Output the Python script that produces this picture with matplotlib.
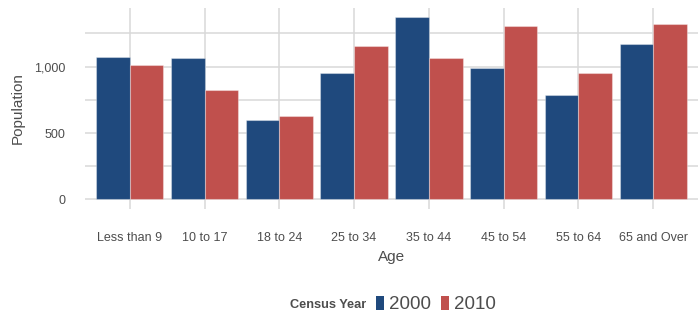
import numpy as np
import matplotlib
matplotlib.use("Agg")
from matplotlib import pyplot as plt
from matplotlib.patches import Patch
from matplotlib.ticker import FuncFormatter, MultipleLocator

age_groups = ["Less than 9", "10 to 17", "18 to 24", "25 to 34",
              "35 to 44", "45 to 54", "55 to 64", "65 and Over"]
pop_2000 = [1074, 1061, 598, 949, 1370, 989, 788, 1171]
pop_2010 = [1011, 823, 628, 1156, 1066, 1302, 949, 1320]
years = ["2000", "2010"]
colors = ["#1f497d", "#c0504d"]

plt.rcParams["font.family"] = ["Liberation Sans", "DejaVu Sans"]
text_color = "#4d4d4d"
grid_color = "#d9d9d9"

fig = plt.figure(figsize=(6.99, 3.14), dpi=100)
ax = fig.add_axes([85 / 699, (314 - 208.6) / 314, 613 / 699, 200.4 / 314])

x = np.arange(1, len(age_groups) + 1)
width = 0.45
for values, color, offset in zip([pop_2000, pop_2010], colors, [-0.5, 0.5]):
    ax.bar(x + offset * width, values, width=width, color=color,
           edgecolor=(1, 1, 1, 0.35), linewidth=0.8, zorder=3)

ax.set_xlim(0.4, len(age_groups) + 0.6)
ax.set_ylim(-68.5, 1438.5)

ax.yaxis.set_major_locator(MultipleLocator(500))
ax.yaxis.set_minor_locator(MultipleLocator(250))
ax.yaxis.set_major_formatter(FuncFormatter(lambda v, p: f"{int(v):,}"))
ax.set_xticks(x)
ax.set_xticklabels(age_groups)

ax.grid(True, which="both", axis="y", color=grid_color, linewidth=1.1, zorder=0)
ax.grid(True, which="major", axis="x", color=grid_color, linewidth=1.1, zorder=0)
for spine in ax.spines.values():
    spine.set_visible(False)
ax.tick_params(axis="both", which="both", length=0, colors=text_color, labelsize=9)
ax.tick_params(axis="x", pad=17)
ax.tick_params(axis="y", pad=14)

ax.set_xlabel("Age", fontsize=11, color=text_color, labelpad=4)
ax.set_ylabel("Population", fontsize=11, color=text_color, labelpad=7)

# legend: bold title on the left, keys and labels in one row
legend_y = 1 - 304.5 / 314
fig.text(366 / 699, legend_y, "Census Year", fontsize=9.2, fontweight="bold",
         color=text_color, ha="right", va="center")
handles = [Patch(facecolor=c, edgecolor="none") for c in colors]
fig.legend(handles, years, loc="center left", bbox_to_anchor=(376 / 699, legend_y),
           ncol=2, frameon=False, fontsize=13.5, labelcolor=text_color,
           handlelength=0.43, handleheight=0.8, handletextpad=0.27,
           columnspacing=0.53, borderpad=0, borderaxespad=0)

fig.savefig("out.png", dpi=100)
